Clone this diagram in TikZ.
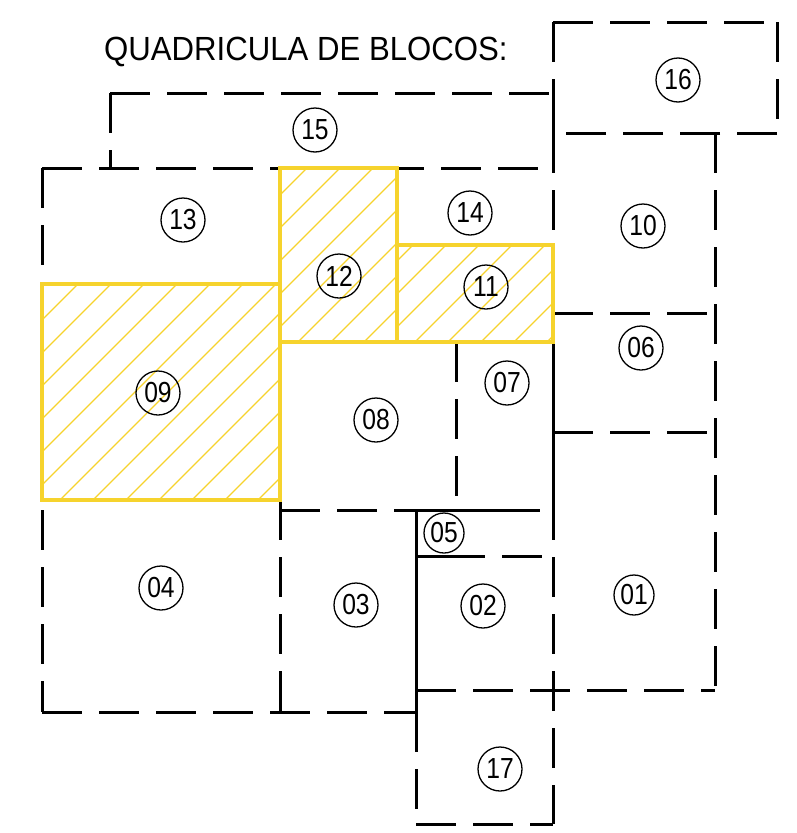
\documentclass[tikz,border=0pt]{standalone}
\usepackage{fontspec}
\setmainfont{Liberation Sans}
\newfontfamily\titlefont[FakeStretch=0.93]{Liberation Sans}
\newfontfamily\numfont[FakeStretch=0.85]{Liberation Sans}
\definecolor{blockyellow}{RGB}{246,211,45}

\begin{document}
\begin{tikzpicture}[x=1pt, y=-1pt,
    wall/.style={line width=3pt, dash pattern=on 40pt off 17pt},
    solidwall/.style={line width=3pt},
    yellowwall/.style={draw=blockyellow, line width=4pt},
    hatchline/.style={draw=blockyellow, line width=1.3pt},
    blockno/.style={draw, circle, line width=1.3pt, minimum size=44pt, inner sep=0pt,
      font=\numfont\fontsize{29}{29}\selectfont}]
    \useasboundingbox (0,0) rectangle (796,833);

    % title
    \node[anchor=base west, inner sep=0pt, font=\titlefont\fontsize{33.5}{34}\selectfont] (title) at (104,60) {QUADRICULA DE BLOCOS:};

    % dashed block limits
    \draw[wall]
      (553,22) -- (777,22)  (777,22) -- (777,133)  (777,133) -- (553,133)  (553,22) -- (553,93)
      (110,93) -- (553,93)  (110,93) -- (110,168)
      (42,168) -- (553,168)  (42,168) -- (42,712)  (42,712) -- (416,712)
      (553,133) -- (553,314)  (715,133) -- (715,690)
      (553,313) -- (715,313)  (553,432) -- (715,432)
      (553,500) -- (553,824)  (416,690) -- (715,690)
      (416,712) -- (416,824)  (416,824) -- (553,824)
      (280,510) -- (416,510)  (500,510) -- (553,510)  (445,556) -- (553,556)
      (280,500) -- (280,712)  (456,342) -- (456,510);

    % solid pieces
    \draw[solidwall]
      (553,93) -- (553,133)  (553,342) -- (553,500)
      (416,510) -- (416,712)  (416,510) -- (500,510)  (416,556) -- (445,556);

    % hatched blocks
    \foreach \xa/\ya/\xb/\yb in {42/284/280/500, 280/168/397/342, 397/245/553/342}{
      \begin{scope}
        \clip (\xa,\ya) rectangle (\xb,\yb);
        \foreach \k in {-10,...,10}
          \draw[hatchline] ({\xa+18+\k*33},\yb) -- ++(300,-300);
      \end{scope}
      \draw[yellowwall] (\xa,\ya) rectangle (\xb,\yb);
    }

    % block numbers
    \node[blockno, minimum size=40pt] (n01) at (634,595) {01};
    \node[blockno] (n02) at (483,606) {02};
    \node[blockno] (n03) at (356,605) {03};
    \node[blockno] (n04) at (161,588) {04};
    \node[blockno, minimum size=40pt] (n05) at (444,533) {05};
    \node[blockno] (n06) at (641,348) {06};
    \node[blockno] (n07) at (507,383) {07};
    \node[blockno] (n08) at (376,420) {08};
    \node[blockno] (n09) at (158,393) {09};
    \node[blockno] (n10) at (643,226) {10};
    \node[blockno] (n11) at (486,287) {11};
    \node[blockno] (n12) at (339,276) {12};
    \node[blockno] (n13) at (183,220) {13};
    \node[blockno] (n14) at (470,213) {14};
    \node[blockno] (n15) at (315,130) {15};
    \node[blockno] (n16) at (678,80) {16};
    \node[blockno] (n17) at (500,769) {17};
\end{tikzpicture}
\end{document}
